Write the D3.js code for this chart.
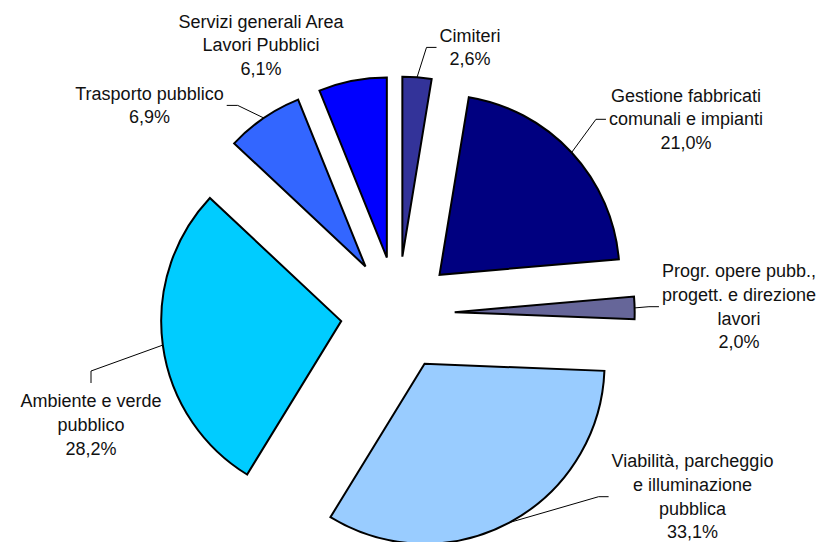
<!DOCTYPE html>
<html>
<head>
<meta charset="utf-8">
<script src="https://cdn.jsdelivr.net/npm/d3@7"></script>
<style>
  html, body { margin: 0; padding: 0; background: #fff; }
  svg { display: block; }
  text { font-family: "Liberation Sans", Arial, Helvetica, sans-serif; font-size: 18px; fill: #111; }
</style>
</head>
<body>
<div id="chart"></div>
<script>
// categories clockwise from 12 o'clock
var categories = [
  "Cimiteri",
  "Gestione fabbricati\ncomunali e impianti",
  "Progr. opere pubb.,\nprogett. e direzione\nlavori",
  "Viabilità, parcheggio\ne illuminazione\npubblica",
  "Ambiente e verde\npubblico",
  "Trasporto pubblico",
  "Servizi generali Area\nLavori Pubblici"
];
var values = [2.6, 21.0, 2.0, 33.1, 28.2, 6.9, 6.1];
var colors = ["#333399", "#000080", "#666699", "#99ccff", "#00ccff", "#3366ff", "#0000ff"];

// label placement (centre x, first baseline) and where the leader attaches
var labelPos = [
  {x: 470, y: 41.5, attach: "left"},
  {x: 686, y: 101.5, attach: "left"},
  {x: 739, y: 277, attach: "left"},
  {x: 692.5, y: 467, attach: "left"},
  {x: 91, y: 407, attach: "top"},
  {x: 149.5, y: 99.5, attach: "right"},
  {x: 261, y: 27.5, attach: "none"}
];

const width = 823, height = 542;
const cx = 397.7, cy = 313.5;
const radius = 180, explode = 57;
const lineH = 23.8;

var svg = d3.select("#chart").append("svg")
  .attr("width", width)
  .attr("height", height);

var pie = d3.pie().sort(null).value(d => d);
var arc = d3.arc().innerRadius(0).outerRadius(radius);
var slices = pie(values);

var g = svg.append("g").attr("transform", "translate(" + cx + "," + cy + ")");

function offset(d, r) {
  var a = (d.startAngle + d.endAngle) / 2;
  return [Math.sin(a) * r, -Math.cos(a) * r];
}

g.selectAll("path.slice")
  .data(slices)
  .enter()
  .append("path")
  .attr("class", "slice")
  .attr("transform", d => { var o = offset(d, explode); return "translate(" + o[0] + "," + o[1] + ")"; })
  .attr("d", arc)
  .attr("fill", (d, i) => colors[i])
  .attr("stroke", "#000")
  .attr("stroke-width", 2)
  .attr("stroke-linejoin", "miter");

var fmt = v => v.toFixed(1).replace(".", ",") + "%";

var labels = svg.append("g");

slices.forEach((d, i) => {
  var p = labelPos[i];
  var lines = categories[i].split("\n").concat([fmt(values[i])]);
  var t = labels.append("text")
    .attr("text-anchor", "middle");
  lines.forEach((l, j) => {
    t.append("tspan")
      .attr("x", p.x)
      .attr("y", p.y + j * lineH)
      .text(l);
  });

  if (p.attach === "none") return;
  var b = t.node().getBBox();
  var s = offset(d, explode);
  var e = offset(d, radius);
  var start = [cx + s[0] + e[0], cy + s[1] + e[1]];
  var end, elbow;
  if (p.attach === "left") {
    end = [b.x - 3, b.y + b.height / 2];
    elbow = [end[0] - 10, end[1]];
  } else if (p.attach === "right") {
    end = [b.x + b.width + 3, b.y + b.height / 2];
    elbow = [end[0] + 11, end[1]];
  } else {
    end = [p.x, b.y - 8];
    elbow = [p.x, end[1] - 12];
  }
  labels.append("path")
    .attr("d", d3.line()([start, elbow, end]))
    .attr("fill", "none")
    .attr("stroke", "#000")
    .attr("stroke-width", 1);
});
</script>
</body>
</html>
